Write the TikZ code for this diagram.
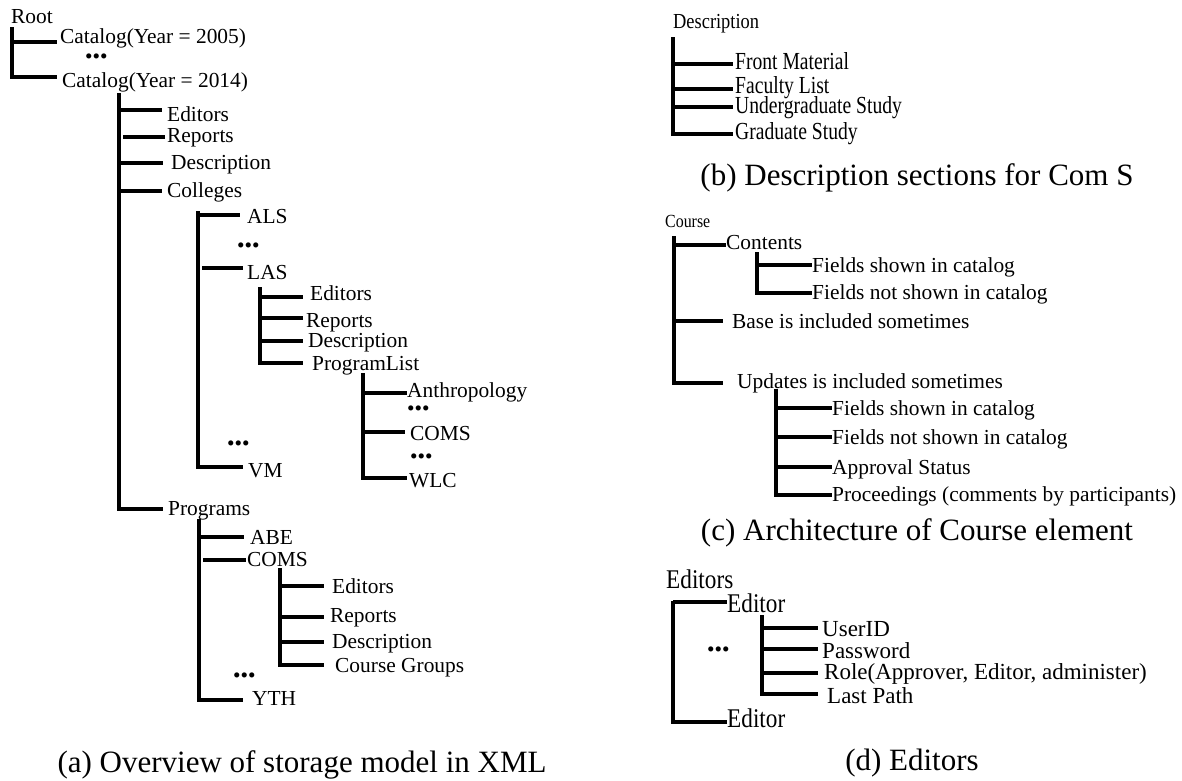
\documentclass[tikz,border=0pt]{standalone}
\usepackage{fontspec}
\setmainfont{Liberation Serif}
\newfontfamily\condB[FakeStretch=0.8]{Liberation Serif}
\newfontfamily\condC[FakeStretch=0.86]{Liberation Serif}
\newcommand\fsA{\fontsize{21.4}{24}\selectfont}
\newcommand\fsB{\condB\fontsize{24.5}{27}\selectfont}
\newcommand\fsT{\condC\fontsize{21.4}{24}\selectfont}
\newcommand\fsCo{\condC\fontsize{18.5}{20}\selectfont}
\newcommand\fsD{\fontsize{23}{25}\selectfont}
\newcommand\fsE{\condC\fontsize{27}{30}\selectfont}
\newcommand\fsCap{\fontsize{31}{34}\selectfont}
\newcommand\hbr[3]{\draw[tl] (#1,#3) -- (#2,#3);}
\newcommand\vbr[3]{\draw[tl] (#1,#2) -- (#1,#3);}
\begin{document}
\begin{tikzpicture}[x=1pt,y=-1pt,
  tl/.style={line width=3.1pt},
  lbl/.style={anchor=base west, inner sep=0pt, font=\fsA},
  lblB/.style={lbl, font=\fsB},
  lblD/.style={lbl, font=\fsD},
  dotsty/.style={anchor=west, inner sep=0pt, font=\fsA},
  captxt/.style={anchor=base, inner sep=0pt, font=\fsCap}]
\useasboundingbox (0,0) rectangle (1182,780);
% ---------- panel (a)
\node[lbl] (root) at (11,23) {Root};
\vbr{12}{27}{78.5}
\hbr{12}{57}{42}
\node[lbl] (cat05) at (60,43) {Catalog(Year = 2005)};
\node[dotsty] (dA) at (85,59) {•••};
\hbr{12}{57}{77}
\node[lbl] (cat14) at (62,87) {Catalog(Year = 2014)};
\vbr{119}{93}{510.5}
\hbr{119}{162}{110}
\node[lbl] (edA) at (167,121) {Editors};
\hbr{123}{165}{137}
\node[lbl] (repA) at (167,142) {Reports};
\hbr{119}{163}{163}
\node[lbl] (desA) at (171,169) {Description};
\hbr{119}{162}{191}
\node[lbl] (col) at (167,197) {Colleges};
\vbr{198}{211}{468.5}
\hbr{198}{240}{215}
\node[lbl] (als) at (247,223) {ALS};
\node[dotsty] (dB) at (237,248) {•••};
\hbr{202}{243}{268}
\node[lbl] (las) at (247,279) {LAS};
\vbr{260}{287}{364.5}
\hbr{260}{303}{297}
\node[lbl] (edL) at (310,300) {Editors};
\hbr{260}{303}{318}
\node[lbl] (repL) at (306,327) {Reports};
\hbr{260}{303}{341}
\node[lbl] (desL) at (308,347) {Description};
\hbr{260}{303}{363}
\node[lbl] (pl) at (312,370) {ProgramList};
\vbr{363}{373}{479.5}
\hbr{363}{407}{393}
\node[lbl] (anth) at (407,397) {Anthropology};
\node[dotsty] (dC) at (407,411) {•••};
\hbr{363}{405}{432}
\node[lbl] (comsL) at (410,440) {COMS};
\node[dotsty] (dD) at (410,459) {•••};
\hbr{363}{407}{478}
\node[lbl] (wlc) at (409,487) {WLC};
\node[dotsty] (dE) at (227,446) {•••};
\hbr{198}{243}{467}
\node[lbl] (vm) at (248,477) {VM};
\hbr{119}{163}{509}
\node[lbl] (prog) at (168,515) {Programs};
\vbr{199}{519}{701.5}
\hbr{199}{244}{537}
\node[lbl] (abe) at (250,544) {ABE};
\hbr{203}{246}{560}
\node[lbl] (coms) at (247,566) {COMS};
\vbr{280}{568}{666.5}
\hbr{280}{324}{586}
\node[lbl] (edC) at (332,593) {Editors};
\hbr{280}{324}{617}
\node[lbl] (repC) at (330,622) {Reports};
\hbr{280}{324}{642}
\node[lbl] (desC) at (332,648) {Description};
\hbr{280}{324}{665}
\node[lbl] (cg) at (335,672) {Course Groups};
\node[dotsty] (dF) at (233,678) {•••};
\hbr{199}{243}{700}
\node[lbl] (yth) at (252,705) {YTH};
\node[captxt] (capA) at (302,772) {(a) Overview of storage model in XML};
% ---------- panel (b)
\node[lbl, font=\fsT] (descT) at (673,28) {Description};
\vbr{673}{37}{135.5}
\hbr{673}{733}{64}
\node[lblB] (fm) at (735,69) {Front Material};
\hbr{673}{733}{89}
\node[lblB] (fl) at (735,93) {Faculty List};
\hbr{673}{733}{107}
\node[lblB] (ug) at (735,113) {Undergraduate Study};
\hbr{673}{733}{134}
\node[lblB] (gs) at (735,139) {Graduate Study};
\node[captxt] (capB) at (917,185) {(b) Description sections for Com S};
% ---------- panel (c)
\node[lbl, font=\fsCo] (course) at (665,227) {Course};
\vbr{674}{236}{384.5}
\hbr{674}{726}{245}
\node[lbl] (cont) at (726,249) {Contents};
\vbr{757}{252}{294.5}
\hbr{757}{812}{265}
\node[lbl] (fs1) at (812,272) {Fields shown in catalog};
\hbr{757}{812}{293}
\node[lbl] (fn1) at (812,299) {Fields not shown in catalog};
\hbr{674}{723}{321}
\node[lbl] (base) at (732,328) {Base is included sometimes};
\hbr{674}{723}{383}
\node[lbl] (upd) at (737,388) {Updates is included sometimes};
\vbr{776}{389}{496.5}
\hbr{776}{832}{408}
\node[lbl] (fs2) at (832,415) {Fields shown in catalog};
\hbr{776}{832}{437}
\node[lbl] (fn2) at (832,444) {Fields not shown in catalog};
\hbr{776}{832}{467}
\node[lbl] (appr) at (832,474) {Approval Status};
\hbr{776}{832}{495}
\node[lbl] (proc) at (832,501) {Proceedings (comments by participants)};
\node[captxt] (capC) at (917,540) {(c) Architecture of Course element};
% ---------- panel (d)
\node[lbl, font=\fsE] (edsT) at (666,588) {Editors};
\vbr{673}{601}{723.5}
\hbr{673}{727}{602}
\node[lbl, font=\fsE] (ed1) at (727,612) {Editor};
\vbr{762}{615}{695.5}
\hbr{762}{818}{628}
\node[lblD] (uid) at (822,636) {UserID};
\hbr{762}{818}{649}
\node[lblD] (pw) at (822,658) {Password};
\hbr{762}{818}{673}
\node[lblD] (role) at (824,679) {Role(Approver, Editor, administer)};
\hbr{762}{818}{694}
\node[lblD] (lp) at (827,703) {Last Path};
\node[dotsty] (dG) at (707,652) {•••};
\hbr{673}{727}{722}
\node[lbl, font=\fsE] (ed2) at (727,727) {Editor};
\node[captxt] (capD) at (912,770) {(d) Editors};
\end{tikzpicture}
\end{document}
